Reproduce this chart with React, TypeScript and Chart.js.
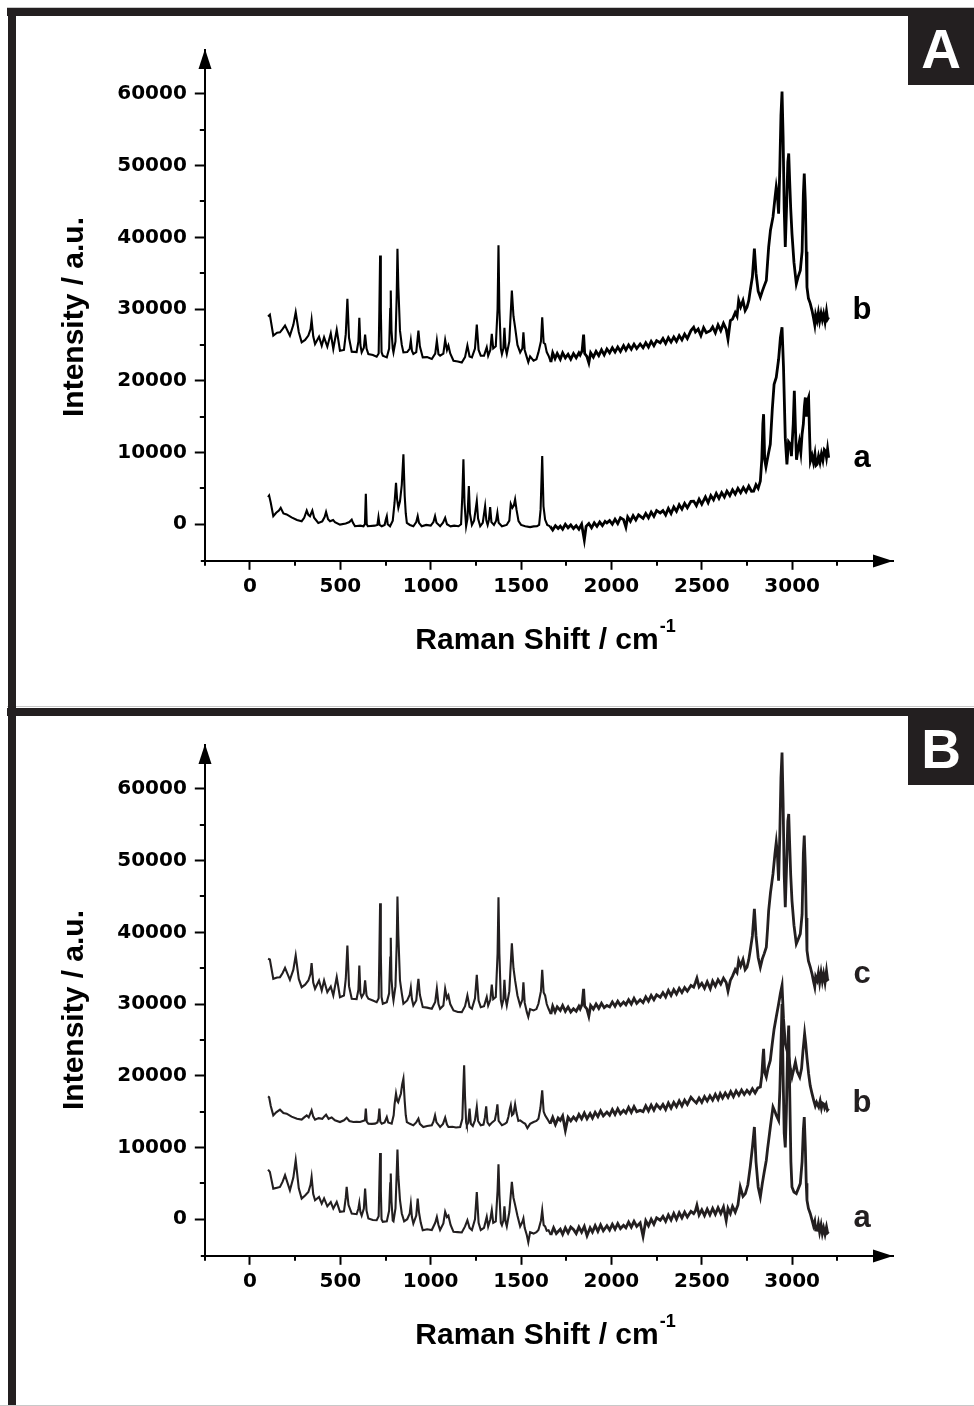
import React, { useEffect, useRef } from "react";
import { Chart, registerables } from "chart.js";

Chart.register(...registerables);

type Pt = [number, number];

// ---- axis ticks / texts ----
const xMajorTicks = [0, 500, 1000, 1500, 2000, 2500, 3000];
const xMinorTicks = [-250, 250, 750, 1250, 1750, 2250, 2750, 3250];
const yMajorTicks = [0, 10000, 20000, 30000, 40000, 50000, 60000];
const yMinorTicks = [5000, 15000, 25000, 35000, 45000, 55000];
const xAxisTitle = "Raman Shift / cm";
const xAxisTitleSup = "-1";
const yAxisTitle = "Intensity / a.u.";
const panelNames = ["A", "B"];
const panelASeriesNames = ["a", "b"];
const panelBSeriesNames = ["a", "b", "c"];

// ---- Panel A, spectrum a (lower) ----
const specA_a: Pt[] = [
  [100, 3780], [106, 4000], [115, 3000], [129, 1120], [145, 1600], [160, 1900], [170, 2280], [185, 1500],
  [203, 1360], [230, 950], [260, 600], [286, 420], [300, 900], [314, 1910], [323, 1300], [332, 1120],
  [345, 1910], [355, 900], [378, 180], [400, 400], [413, 1000], [421, 1720], [432, 700], [443, 420],
  [460, 600], [470, 300], [498, -50], [530, 100], [550, 300], [563, 650], [570, 200], [581, -280],
  [610, -200], [628, -280], [636, 0], [641, 4240], [646, 0], [652, -280], [690, -200], [705, -100],
  [711, 980], [717, -100], [729, -280], [745, -100], [752, 700], [757, 1120], [762, 0], [775, -280],
  [790, 500], [800, 3000], [808, 5780], [814, 3500], [821, 2280], [830, 3200], [840, 5500], [849, 9750],
  [856, 4000], [862, 1500], [868, 180], [885, -100], [904, -280], [920, 300], [928, 1120], [935, 200],
  [950, -280], [975, -100], [1000, -200], [1015, 300], [1024, 1120], [1032, 200], [1052, -280], [1068, 200],
  [1080, 890], [1090, 0], [1110, -300], [1130, -200], [1154, -280], [1168, 0], [1175, 4000], [1181, 9050],
  [1187, 3000], [1196, -280], [1203, 700], [1211, 5310], [1217, 1500], [1228, -100], [1240, 500], [1255, 3220],
  [1262, 800], [1274, -280], [1288, 200], [1301, 2520], [1308, 500], [1315, -100], [1322, 600], [1329, 2380],
  [1336, 300], [1350, -100], [1362, 500], [1369, 1580], [1376, 200], [1394, -280], [1420, -100], [1435, 500],
  [1443, 2840], [1452, 2300], [1460, 2600], [1467, 3450], [1475, 2000], [1486, 420], [1500, -100], [1523, -280],
  [1550, -400], [1570, -300], [1588, -280], [1600, -100], [1608, 2000], [1617, 9510], [1624, 2500], [1633, 650],
  [1645, -100], [1661, -300], [1675, -800], [1690, -200], [1705, -600], [1717, -280], [1730, -700], [1745, 0],
  [1760, -500], [1775, -100], [1790, -600], [1805, -200], [1820, -700], [1835, 0], [1850, -2200], [1860, -300],
  [1875, 100], [1890, -500], [1905, 200], [1920, -300], [1935, 300], [1950, -200], [1965, 400], [1975, 180],
  [1990, 500], [2005, 0], [2020, 700], [2035, 100], [2050, 900], [2067, 650], [2080, -400], [2090, 1000],
  [2105, 400], [2120, 1200], [2135, 600], [2150, 1300], [2159, 1120], [2175, 800], [2190, 1500], [2205, 900],
  [2220, 1700], [2235, 1100], [2250, 1900], [2270, 1580], [2285, 1900], [2300, 1300], [2315, 2200], [2330, 1500],
  [2345, 2400], [2360, 1800], [2375, 2700], [2390, 2100], [2405, 2900], [2420, 2300], [2440, 3200], [2455, 3220],
  [2470, 2600], [2485, 3500], [2500, 2800], [2520, 3800], [2535, 3000], [2550, 4000], [2565, 3400], [2580, 4300],
  [2595, 3600], [2610, 4400], [2625, 3800], [2639, 4620], [2655, 4000], [2670, 4800], [2685, 4200], [2700, 5000],
  [2715, 4400], [2730, 5100], [2745, 4500], [2760, 5300], [2775, 4600], [2787, 4620], [2800, 5500], [2812, 5000],
  [2824, 6010], [2832, 9000], [2838, 14000], [2842, 15340], [2848, 9000], [2855, 8000], [2861, 8810], [2870, 10000],
  [2879, 11150], [2890, 16000], [2900, 19500], [2912, 20460], [2925, 23000], [2935, 26000], [2944, 27460], [2952, 22000],
  [2962, 12000], [2971, 8350], [2980, 11500], [2990, 11150], [2996, 9500], [3006, 14000], [3012, 18600], [3018, 13500],
  [3024, 9000], [3031, 10210], [3040, 11500], [3048, 10000], [3055, 12550], [3062, 14000], [3068, 16500], [3073, 17670],
  [3080, 15000], [3085, 17200], [3091, 17670], [3097, 12000], [3101, 8810], [3110, 9600], [3118, 8600], [3126, 9800],
  [3132, 8200], [3138, 8350], [3146, 9500], [3154, 8600], [3162, 9800], [3170, 8900], [3178, 10400], [3184, 10210],
  [3190, 9300], [3196, 10500], [3202, 9270],
];

// ---- Panel A, spectrum b (upper) ----
const specA_b: Pt[] = [
  [100, 28950], [110, 29200], [129, 26300], [150, 26700], [166, 26760], [180, 27200], [194, 27700], [221, 26300],
  [240, 27800], [253, 29550], [270, 26800], [286, 25360], [305, 25700], [323, 26300], [335, 27200], [341, 28480],
  [350, 26200], [360, 25130], [382, 26150], [397, 24900], [410, 26060], [428, 24760], [447, 26620], [461, 24430],
  [480, 27090], [498, 24200], [520, 24300], [530, 26500], [539, 31430], [548, 26000], [563, 24060], [590, 24000],
  [600, 25500], [605, 28770], [611, 25000], [618, 23960], [630, 24600], [637, 26430], [645, 24500], [655, 23730],
  [680, 23600], [701, 23360], [712, 23800], [716, 30000], [720, 37480], [724, 30000], [728, 24000], [735, 23500],
  [757, 23260], [770, 24500], [776, 30000], [779, 32590], [783, 27000], [790, 24500], [794, 23960], [805, 25500],
  [812, 32000], [816, 38420], [821, 33000], [830, 26990], [840, 25000], [849, 23960], [870, 24000], [884, 24500],
  [890, 25600], [896, 24200], [904, 23730], [920, 24000], [928, 26000], [932, 27000], [940, 24800], [956, 23260],
  [980, 23300], [1006, 23030], [1025, 23800], [1034, 25600], [1043, 23700], [1052, 23500], [1070, 23800], [1080, 25690],
  [1090, 24300], [1098, 24900], [1108, 23800], [1126, 22800], [1150, 22700], [1172, 22560], [1190, 23300], [1203, 24900],
  [1215, 23400], [1228, 23260], [1245, 24500], [1255, 27830], [1265, 24300], [1277, 23500], [1295, 23500], [1310, 24660],
  [1318, 23500], [1330, 24300], [1338, 26530], [1346, 24500], [1360, 24800], [1370, 30000], [1375, 38880], [1380, 30000],
  [1388, 24500], [1394, 23730], [1402, 24500], [1408, 27370], [1414, 24600], [1421, 23730], [1435, 25500], [1449, 32590],
  [1458, 29000], [1467, 27460], [1480, 25000], [1495, 23960], [1507, 24500], [1513, 26760], [1520, 24300], [1532, 23260],
  [1540, 22600], [1550, 23400], [1569, 22800], [1585, 23000], [1596, 23960], [1610, 25500], [1617, 28860], [1625, 25300],
  [1633, 25130], [1642, 24000], [1652, 23500], [1665, 22600], [1675, 23900], [1688, 23100], [1700, 23800], [1717, 23000],
  [1730, 23900], [1745, 23200], [1760, 23700], [1775, 23000], [1790, 23800], [1805, 23200], [1820, 23900], [1827, 23600],
  [1838, 24200], [1846, 26430], [1852, 23800], [1864, 23400], [1875, 22500], [1885, 23900], [1900, 23300], [1915, 24100],
  [1930, 23500], [1945, 24300], [1960, 23600], [1975, 24430], [1990, 23900], [2005, 24600], [2020, 24000], [2035, 24700],
  [2050, 24100], [2067, 24900], [2080, 24300], [2095, 25000], [2110, 24400], [2125, 25100], [2140, 24500], [2159, 25130],
  [2175, 24600], [2190, 25300], [2205, 24700], [2220, 25500], [2235, 24900], [2250, 25600], [2270, 25300], [2285, 25900],
  [2300, 25200], [2315, 26000], [2330, 25400], [2345, 26100], [2360, 25500], [2375, 26300], [2390, 25700], [2405, 26500],
  [2420, 25900], [2440, 27000], [2455, 27460], [2465, 26800], [2480, 27200], [2495, 26300], [2510, 27400], [2525, 26700],
  [2547, 26990], [2560, 27500], [2575, 26700], [2590, 27800], [2605, 27000], [2620, 28000], [2635, 27200], [2645, 25800],
  [2658, 28390], [2670, 28600], [2685, 29500], [2695, 29000], [2704, 31190], [2715, 30300], [2728, 31200], [2740, 29800],
  [2750, 30250], [2760, 31200], [2768, 32590], [2780, 34500], [2791, 38420], [2800, 35000], [2812, 32500], [2824, 31660],
  [2835, 32500], [2845, 33200], [2857, 33990], [2864, 36500], [2870, 38650], [2880, 41000], [2894, 42850], [2905, 45500],
  [2912, 47040], [2918, 46000], [2925, 43310], [2932, 50000], [2938, 57000], [2944, 60320], [2950, 54000], [2956, 44000],
  [2962, 38650], [2970, 45000], [2976, 50500], [2981, 51700], [2986, 48000], [2992, 44000], [2999, 40510], [3010, 36500],
  [3023, 33520], [3033, 34500], [3045, 35380], [3055, 38000], [3062, 46000], [3067, 48910], [3073, 45000], [3078, 38000],
  [3082, 33060], [3090, 31500], [3100, 30800], [3110, 29790], [3118, 28800], [3125, 27800], [3130, 29200], [3138, 28390],
  [3145, 29500], [3152, 28300], [3160, 29400], [3167, 28500], [3174, 29330], [3182, 28200], [3190, 29700], [3196, 28600],
  [3202, 28860],
];

// ---- Panel B, spectrum a (lower) ----
const specB_a: Pt[] = [
  [100, 6920], [110, 6600], [129, 4270], [150, 4400], [166, 4500], [180, 5200], [194, 6130], [221, 4040],
  [240, 5800], [253, 8220], [270, 4300], [286, 2880], [305, 3300], [323, 3800], [335, 4800], [341, 5890],
  [350, 3500], [360, 2650], [382, 3100], [397, 2180], [410, 2900], [428, 1800], [447, 2400], [461, 1490],
  [480, 2410], [498, 1020], [520, 1100], [530, 3000], [535, 4500], [545, 2000], [563, 790], [590, 700],
  [600, 1500], [605, 2270], [611, 1000], [618, 500], [630, 1500], [637, 4270], [645, 1200], [655, 100],
  [680, -100], [701, -140], [712, 400], [716, 5000], [720, 9240], [724, 4000], [728, 0], [735, -370],
  [757, -300], [770, 1200], [776, 5000], [779, 6360], [783, 2500], [790, -200], [794, -300], [805, 1500],
  [812, 6500], [816, 9710], [821, 6000], [830, 2650], [840, 800], [853, -300], [870, 0], [884, 800],
  [890, 2090], [896, 300], [904, -600], [920, 500], [928, 2880], [935, 1000], [945, -500], [956, -1530],
  [980, -1400], [1006, -1500], [1025, -500], [1034, 320], [1043, -800], [1052, -1500], [1070, -600], [1080, 1020],
  [1090, 300], [1098, 500], [1110, -800], [1126, -1760], [1150, -1800], [1172, -1850], [1190, -1000], [1203, -140],
  [1215, -1200], [1228, -1500], [1245, 0], [1255, 3800], [1265, -500], [1277, -1500], [1295, -1200], [1310, 320],
  [1318, -1000], [1330, 0], [1338, 1250], [1346, -500], [1360, -300], [1370, 4000], [1375, 7660], [1380, 3500],
  [1388, -500], [1394, -840], [1402, -200], [1408, 1800], [1414, -300], [1421, -1000], [1435, 1000], [1449, 5200],
  [1458, 3000], [1467, 2000], [1480, 500], [1495, -1000], [1507, -400], [1513, 100], [1520, -1200], [1532, -2230],
  [1540, -3200], [1550, -1800], [1569, -2000], [1585, -1800], [1596, -1500], [1610, -200], [1617, 1250], [1625, -800],
  [1633, -1000], [1642, -1600], [1652, -1530], [1665, -2200], [1680, -1200], [1695, -2000], [1717, -1400], [1730, -2100],
  [1745, -1200], [1760, -1900], [1775, -1100], [1790, -1440], [1805, -2000], [1820, -1100], [1835, -1800], [1850, -1000],
  [1865, -2300], [1882, -1200], [1895, -1800], [1910, -900], [1925, -1700], [1940, -800], [1955, -1600], [1975, -900],
  [1990, -1500], [2005, -700], [2020, -1400], [2035, -600], [2050, -1300], [2067, -840], [2080, -1200], [2095, -400],
  [2110, -1100], [2125, -300], [2140, -1000], [2159, -500], [2175, -2400], [2190, -200], [2205, -900], [2220, 0],
  [2235, -700], [2250, 200], [2270, -140], [2285, 400], [2300, -300], [2315, 600], [2330, -100], [2345, 800],
  [2360, 0], [2375, 900], [2390, 200], [2405, 1000], [2420, 300], [2440, 1100], [2455, 790], [2465, 1200],
  [2473, 1950], [2485, 600], [2500, 1300], [2515, 500], [2530, 1400], [2545, 600], [2560, 1500], [2575, 700],
  [2590, 1600], [2605, 800], [2620, 1700], [2635, -200], [2645, 1500], [2658, 790], [2670, 1800], [2685, 1000],
  [2700, 2000], [2713, 4500], [2728, 3200], [2741, 3580], [2755, 4800], [2768, 7290], [2780, 10000], [2791, 12860],
  [2800, 8000], [2812, 4500], [2824, 3110], [2835, 5000], [2845, 6500], [2857, 8220], [2864, 9800], [2870, 11000],
  [2880, 13000], [2894, 15640], [2905, 15000], [2912, 14500], [2925, 13790], [2932, 18000], [2938, 24000], [2944, 30000],
  [2950, 20000], [2956, 12000], [2962, 10000], [2968, 15000], [2975, 24000], [2981, 27000], [2987, 17000], [2993, 8000],
  [2999, 4500], [3010, 3800], [3023, 3580], [3033, 4200], [3045, 4970], [3055, 8000], [3062, 12500], [3067, 14250],
  [3073, 10000], [3078, 5000], [3082, 2650], [3090, 1500], [3100, 800], [3110, -140], [3118, -900], [3125, -300],
  [3130, -1500], [3138, -1530], [3145, -600], [3152, -1800], [3160, -800], [3167, -2000], [3174, -1200], [3182, -2100],
  [3190, -1100], [3196, -1900], [3202, -1760],
];

// ---- Panel B, spectrum b (middle) ----
const specB_b: Pt[] = [
  [100, 17130], [106, 17000], [115, 15800], [129, 14480], [145, 14900], [166, 15280], [185, 14800], [203, 14720],
  [230, 14300], [260, 14000], [286, 13890], [300, 14200], [314, 14480], [325, 14200], [341, 15180], [350, 14300],
  [360, 13890], [380, 14100], [400, 14000], [410, 14300], [421, 14580], [435, 14000], [452, 14200], [470, 13800],
  [498, 13550], [520, 13800], [535, 14160], [550, 13700], [572, 13550], [590, 13600], [609, 13550], [625, 13700],
  [636, 13800], [641, 15420], [646, 13600], [655, 13330], [675, 13300], [692, 13330], [705, 13500], [711, 14000],
  [716, 15420], [721, 13600], [729, 13330], [745, 13500], [757, 14250], [765, 13500], [784, 13330], [795, 14500],
  [800, 16000], [808, 17510], [815, 16500], [820, 16300], [826, 16810], [835, 17500], [842, 18800], [849, 19600],
  [856, 16500], [862, 14500], [868, 13550], [885, 13300], [904, 13090], [920, 13500], [932, 14020], [940, 13300],
  [959, 12860], [980, 13000], [1006, 13100], [1015, 13600], [1024, 14480], [1032, 13500], [1052, 12860], [1068, 13300],
  [1080, 14160], [1090, 13200], [1098, 12860], [1120, 12900], [1140, 12800], [1163, 12860], [1175, 14000], [1180, 18000],
  [1185, 21450], [1190, 17000], [1196, 13500], [1200, 13090], [1208, 13500], [1215, 15420], [1222, 13300], [1233, 13000],
  [1245, 13800], [1255, 15650], [1262, 13700], [1277, 13100], [1292, 13200], [1300, 14200], [1307, 15740], [1314, 13500],
  [1325, 13100], [1340, 13500], [1355, 13800], [1364, 15000], [1369, 16020], [1376, 13700], [1394, 13100], [1410, 13300],
  [1421, 13500], [1430, 14300], [1437, 15300], [1443, 15880], [1450, 14500], [1458, 14700], [1467, 16020], [1475, 14800],
  [1485, 13700], [1495, 13790], [1510, 13500], [1523, 13300], [1535, 12700], [1550, 13300], [1569, 13550], [1585, 13700],
  [1596, 14000], [1607, 15500], [1617, 17970], [1625, 15000], [1633, 14480], [1645, 14000], [1661, 13300], [1675, 14200],
  [1690, 13200], [1705, 14100], [1717, 13790], [1730, 14400], [1745, 12400], [1760, 14200], [1775, 13700], [1790, 14250],
  [1805, 13800], [1820, 14600], [1835, 14000], [1850, 14800], [1865, 14000], [1882, 14720], [1895, 14100], [1910, 14900],
  [1925, 14300], [1940, 15100], [1955, 14400], [1975, 14950], [1990, 14500], [2005, 15300], [2020, 14600], [2035, 15400],
  [2050, 14700], [2067, 15180], [2080, 14800], [2095, 15600], [2110, 14900], [2125, 15700], [2140, 15000], [2159, 15180],
  [2175, 15000], [2190, 15800], [2205, 15100], [2220, 15900], [2235, 15200], [2250, 16000], [2270, 15420], [2285, 16000],
  [2300, 15300], [2315, 16200], [2330, 15500], [2345, 16300], [2360, 15700], [2375, 16500], [2390, 15800], [2405, 16600],
  [2420, 16000], [2440, 17000], [2455, 16570], [2470, 16200], [2485, 16900], [2500, 16300], [2515, 17100], [2530, 16500],
  [2545, 17200], [2560, 16600], [2575, 17400], [2590, 16700], [2602, 17510], [2615, 16900], [2630, 17600], [2645, 17000],
  [2660, 17800], [2675, 17100], [2690, 17900], [2705, 17300], [2720, 18000], [2735, 17400], [2750, 17970], [2765, 17500],
  [2780, 18200], [2795, 17600], [2810, 18300], [2824, 18430], [2832, 20000], [2838, 22500], [2842, 23770], [2848, 20500],
  [2857, 19820], [2866, 21000], [2879, 22150], [2890, 24500], [2900, 26500], [2912, 28180], [2925, 30000], [2935, 31500],
  [2944, 32590], [2952, 28000], [2962, 24470], [2972, 23500], [2981, 22610], [2990, 21000], [2999, 19820], [3008, 20800],
  [3018, 21910], [3028, 20600], [3042, 19820], [3052, 21000], [3060, 23500], [3065, 24800], [3069, 25860], [3075, 24500],
  [3082, 22500], [3091, 20290], [3100, 18600], [3110, 17510], [3120, 16500], [3128, 15800], [3135, 16300], [3147, 15640],
  [3155, 16500], [3162, 15500], [3168, 16200], [3174, 16100], [3180, 15500], [3188, 16000], [3195, 15200], [3202, 15420],
];

// ---- Panel B, spectrum c (upper) ----
const specB_c: Pt[] = [
  [100, 36310], [110, 36200], [129, 33520], [150, 33700], [166, 33750], [180, 34300], [194, 35060], [221, 33380],
  [240, 34800], [253, 36770], [270, 33500], [286, 32350], [305, 32700], [323, 33290], [335, 34200], [341, 35700],
  [350, 33000], [360, 32130], [382, 33290], [397, 31890], [410, 33290], [428, 31660], [447, 32450], [461, 31200],
  [480, 33750], [498, 30960], [520, 31200], [530, 33500], [539, 38160], [548, 32500], [563, 30740], [590, 30700],
  [600, 32000], [605, 35380], [611, 31500], [618, 30960], [630, 31500], [637, 33290], [645, 31200], [655, 30740],
  [680, 30500], [701, 30270], [712, 30800], [716, 37000], [720, 44050], [724, 37000], [728, 31000], [735, 30040],
  [757, 30270], [770, 31500], [776, 36500], [779, 39230], [783, 33500], [790, 31200], [794, 30500], [805, 32500],
  [812, 38500], [816, 44990], [821, 39500], [830, 33290], [840, 31500], [849, 30040], [870, 30500], [884, 31300],
  [890, 32270], [896, 30700], [904, 29800], [920, 30500], [928, 32600], [932, 33520], [940, 31300], [956, 29570],
  [980, 29500], [1006, 29340], [1025, 30300], [1034, 32130], [1043, 30000], [1052, 29340], [1070, 29800], [1080, 32130],
  [1090, 30800], [1098, 31200], [1108, 30000], [1126, 29110], [1150, 28900], [1172, 28870], [1190, 29700], [1203, 31200],
  [1215, 29600], [1228, 29340], [1245, 30800], [1255, 34080], [1265, 30500], [1277, 29570], [1295, 29700], [1310, 30960],
  [1318, 29800], [1330, 30600], [1338, 32730], [1346, 30700], [1360, 31000], [1370, 37000], [1375, 44890], [1380, 37000],
  [1388, 30600], [1394, 29800], [1402, 30600], [1408, 33380], [1414, 30800], [1421, 29800], [1435, 31800], [1449, 38480],
  [1458, 35000], [1467, 33290], [1480, 31200], [1495, 29800], [1507, 30600], [1513, 33050], [1520, 30200], [1532, 28870],
  [1540, 28200], [1550, 29300], [1569, 29110], [1585, 29300], [1596, 30040], [1610, 31800], [1617, 34780], [1625, 31600],
  [1633, 31200], [1642, 30000], [1652, 29340], [1665, 28600], [1675, 29700], [1688, 28900], [1700, 29600], [1717, 29110],
  [1730, 29800], [1745, 29000], [1760, 29600], [1775, 28900], [1790, 29340], [1805, 29000], [1820, 29700], [1827, 29340],
  [1838, 30000], [1846, 32130], [1852, 29700], [1864, 29340], [1875, 28300], [1885, 29800], [1900, 29300], [1915, 30000],
  [1930, 29400], [1945, 30100], [1960, 29500], [1975, 29800], [1990, 29600], [2005, 30300], [2020, 29700], [2035, 30400],
  [2050, 29800], [2067, 30270], [2080, 29900], [2095, 30600], [2110, 30000], [2125, 30800], [2140, 30100], [2159, 30600],
  [2175, 30200], [2190, 31000], [2205, 30400], [2220, 31200], [2235, 30600], [2250, 31300], [2270, 30960], [2285, 31600],
  [2300, 31000], [2315, 31900], [2330, 31200], [2345, 32000], [2360, 31400], [2375, 32200], [2390, 31600], [2405, 32300],
  [2420, 31800], [2440, 32600], [2455, 32350], [2465, 33000], [2473, 33600], [2485, 32400], [2500, 32900], [2515, 32200],
  [2530, 33100], [2547, 32130], [2560, 33200], [2575, 32500], [2590, 33400], [2605, 32800], [2620, 33600], [2635, 33000],
  [2645, 31800], [2658, 33290], [2670, 33900], [2685, 34800], [2695, 34400], [2704, 36070], [2715, 35300], [2728, 36200],
  [2740, 34800], [2750, 35140], [2760, 36200], [2768, 37470], [2780, 39500], [2791, 43270], [2800, 39500], [2812, 36500],
  [2824, 35140], [2835, 36300], [2845, 37000], [2857, 37930], [2864, 40500], [2870, 43040], [2880, 45500], [2894, 48150],
  [2905, 51000], [2912, 52550], [2918, 51000], [2925, 47210], [2932, 54000], [2938, 61500], [2944, 65080], [2950, 58000],
  [2956, 48000], [2962, 43500], [2970, 50000], [2976, 55500], [2981, 56500], [2986, 52500], [2992, 48000], [2999, 44430],
  [3010, 41000], [3023, 38400], [3033, 39000], [3045, 39790], [3055, 42500], [3062, 51000], [3067, 53480], [3073, 49000],
  [3078, 42000], [3082, 37470], [3090, 36000], [3100, 35200], [3110, 34220], [3118, 33200], [3125, 32400], [3130, 33800],
  [3138, 33290], [3145, 34300], [3152, 33000], [3160, 34400], [3167, 33200], [3174, 34220], [3182, 33000], [3190, 34600],
  [3196, 33400], [3202, 33520],
];

// ---- layout (pixels) ----
const W = 974;
const AREA = { left: 204.8, right: 893, top: 50, bottom: 560.8 };
const X_RANGE = { min: -250, max: 3558 };
const Y_RANGE = { min: -5100, max: 66122 };
const NOISY_FROM = 1655;
const FRAME = "#231f20";
const TITLE_FONT = "'Liberation Sans', Arial, Helvetica, sans-serif";
const TICK_FONT = "'DejaVu Sans', Verdana, sans-serif";

type LabelSpec = { text: string; y: number };

function makeDecor(color: string, labels: LabelSpec[], yTitleCenter: number) {
  return {
    id: "decor",
    afterDraw(chart: any) {
      const { ctx, chartArea } = chart;
      const xs = chart.scales.x;
      const ys = chart.scales.y;
      const ax = chartArea.left;
      const ay = chartArea.bottom;
      ctx.save();
      ctx.strokeStyle = "#000";
      ctx.fillStyle = "#000";
      ctx.lineWidth = 2;
      // minor ticks
      xMinorTicks.forEach((v) => {
        const px = Math.round(xs.getPixelForValue(v));
        ctx.beginPath();
        ctx.moveTo(px, ay);
        ctx.lineTo(px, ay + 5);
        ctx.stroke();
      });
      yMinorTicks.forEach((v) => {
        const py = Math.round(ys.getPixelForValue(v));
        ctx.beginPath();
        ctx.moveTo(ax - 5, py);
        ctx.lineTo(ax, py);
        ctx.stroke();
      });
      // axis extensions past the origin corner
      ctx.beginPath();
      ctx.moveTo(ax - 4, Math.round(ay));
      ctx.lineTo(ax, Math.round(ay));
      ctx.moveTo(Math.round(ax), ay);
      ctx.lineTo(Math.round(ax), ay + 3);
      ctx.stroke();
      // arrow heads
      const tipY = chartArea.top - 1;
      ctx.beginPath();
      ctx.moveTo(Math.round(ax), tipY);
      ctx.lineTo(Math.round(ax) - 6.5, tipY + 20);
      ctx.lineTo(Math.round(ax) + 6.5, tipY + 20);
      ctx.closePath();
      ctx.fill();
      const tipX = chartArea.right;
      ctx.beginPath();
      ctx.moveTo(tipX, Math.round(ay));
      ctx.lineTo(tipX - 20, Math.round(ay) - 6.5);
      ctx.lineTo(tipX - 20, Math.round(ay) + 6.5);
      ctx.closePath();
      ctx.fill();
      // x title with superscript
      ctx.fillStyle = "#000";
      ctx.font = `bold 30px ${TITLE_FONT}`;
      ctx.textBaseline = "alphabetic";
      ctx.textAlign = "left";
      const w = ctx.measureText(xAxisTitle).width;
      const tx = 537 - w / 2;
      ctx.fillText(xAxisTitle, tx, 649);
      ctx.font = `bold 18px ${TITLE_FONT}`;
      ctx.fillText(xAxisTitleSup, tx + w + 1, 632);
      // y title
      ctx.save();
      ctx.translate(75, yTitleCenter);
      ctx.rotate(-Math.PI / 2);
      ctx.font = `bold 30px ${TITLE_FONT}`;
      ctx.textAlign = "center";
      ctx.textBaseline = "middle";
      ctx.fillText(yAxisTitle, 0, 0);
      ctx.restore();
      // series labels
      ctx.fillStyle = color;
      ctx.font = `bold 31px ${TITLE_FONT}`;
      ctx.textAlign = "center";
      ctx.textBaseline = "alphabetic";
      labels.forEach((l) => ctx.fillText(l.text, 862, l.y));
      ctx.restore();
    },
  };
}

function buildConfig(series: Pt[][], color: string, canvasH: number, labels: LabelSpec[], yTitleCenter: number): any {
  return {
    type: "line",
    data: {
      datasets: series.map((s) => ({
        data: s.map(([x, y]) => ({ x, y })),
        borderColor: color,
        borderWidth: 2.1,
        pointRadius: 0,
        tension: 0,
        fill: false,
        segment: {
          borderWidth: (c: any) => (c.p0.parsed.x >= NOISY_FROM ? 2.8 : 2.1),
        },
      })),
    },
    options: {
      animation: false,
      responsive: false,
      devicePixelRatio: 1,
      layout: { padding: { left: 0, right: W - AREA.right, top: AREA.top, bottom: 0 } },
      plugins: { legend: { display: false }, tooltip: { enabled: false }, title: { display: false } },
      scales: {
        x: {
          type: "linear",
          min: X_RANGE.min,
          max: X_RANGE.max,
          afterFit: (s: any) => {
            s.height = canvasH - AREA.bottom;
          },
          afterBuildTicks: (s: any) => {
            s.ticks = xMajorTicks.map((v) => ({ value: v }));
          },
          grid: { display: true, drawOnChartArea: false, drawTicks: true, tickLength: 9, tickWidth: 2, tickColor: "#000" },
          border: { display: true, color: "#000", width: 2 },
          ticks: {
            color: "#000",
            padding: 5,
            maxRotation: 0,
            font: { family: TICK_FONT, weight: "bold", size: 20 },
            callback: (v: any) => String(v),
          },
        },
        y: {
          type: "linear",
          min: Y_RANGE.min,
          max: Y_RANGE.max,
          afterFit: (s: any) => {
            s.width = AREA.left;
          },
          afterBuildTicks: (s: any) => {
            s.ticks = yMajorTicks.map((v) => ({ value: v }));
          },
          grid: { display: true, drawOnChartArea: false, drawTicks: true, tickLength: 10, tickWidth: 2, tickColor: "#000" },
          border: { display: true, color: "#000", width: 2 },
          ticks: {
            color: "#000",
            padding: 8,
            font: { family: TICK_FONT, weight: "bold", size: 20 },
            callback: (v: any) => String(v),
          },
        },
      },
    },
    plugins: [makeDecor(color, labels, yTitleCenter)],
  };
}

function Panel(props: { top: number; height: number; series: Pt[][]; color: string; labels: LabelSpec[]; yTitleCenter: number }) {
  const ref = useRef<HTMLCanvasElement | null>(null);
  useEffect(() => {
    if (!ref.current) return;
    const chart = new Chart(ref.current, buildConfig(props.series, props.color, props.height, props.labels, props.yTitleCenter));
    return () => chart.destroy();
  }, []);
  return (
    <canvas
      ref={ref}
      width={W}
      height={props.height}
      style={{ position: "absolute", left: 0, top: props.top, width: W, height: props.height, display: "block" }}
    />
  );
}

const box = (style: React.CSSProperties): React.CSSProperties => ({ position: "absolute", ...style });

export default function App() {
  const labelsA: LabelSpec[] = [
    { text: panelASeriesNames[1], y: 319 },
    { text: panelASeriesNames[0], y: 467 },
  ];
  const labelsB: LabelSpec[] = [
    { text: panelBSeriesNames[2], y: 288 },
    { text: panelBSeriesNames[1], y: 417 },
    { text: panelBSeriesNames[0], y: 532 },
  ];
  const letterStyle: React.CSSProperties = {
    position: "absolute",
    left: 908,
    width: 66,
    textAlign: "center",
    color: "#fff",
    fontFamily: TITLE_FONT,
    fontWeight: "bold",
    fontSize: 55,
    lineHeight: "55px",
  };
  return (
    <div style={{ position: "absolute", left: 0, top: 0, width: W, height: 1406, background: "#fff", overflow: "hidden" }}>
      <Panel top={0} height={695} series={[specA_a, specA_b]} color="#000" labels={labelsA} yTitleCenter={317} />
      <Panel top={695} height={711} series={[specB_a, specB_b, specB_c]} color="#231f20" labels={labelsB} yTitleCenter={315} />
      {/* frame */}
      <div style={box({ left: 7, top: 7, width: W - 7, height: 1, background: "#c8c8c8" })} />
      <div style={box({ left: 7, top: 8, width: W - 7, height: 8, background: FRAME })} />
      <div style={box({ left: 7, top: 706, width: W - 7, height: 1, background: "#c8c8c8" })} />
      <div style={box({ left: 7, top: 708, width: W - 7, height: 8, background: FRAME })} />
      <div style={box({ left: 8, top: 8, width: 8, height: 1398, background: FRAME })} />
      <div style={box({ left: 0, top: 1405, width: W, height: 1, background: "#c8c8c8" })} />
      <div style={box({ left: 908, top: 16, width: 66, height: 69, background: FRAME })} />
      <div style={box({ left: 908, top: 716, width: 66, height: 69, background: FRAME })} />
      <div style={{ ...letterStyle, top: 22 }}>{panelNames[0]}</div>
      <div style={{ ...letterStyle, top: 722 }}>{panelNames[1]}</div>
    </div>
  );
}
